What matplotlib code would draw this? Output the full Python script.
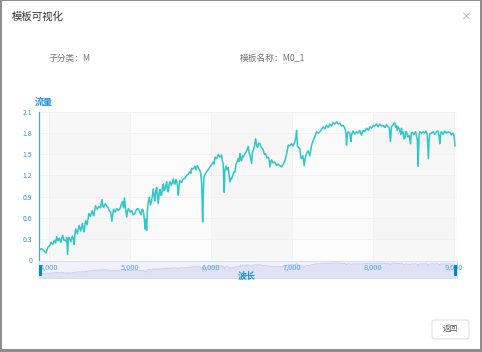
import matplotlib.pyplot as plt
from matplotlib.patches import Rectangle, FancyBboxPatch
from matplotlib.transforms import blended_transform_factory

plt.rcParams['font.family'] = ['Noto Sans CJK SC', 'DejaVu Sans']

W, H = 482, 352

# spectrum (wavelength, flux)
wavelength = [
    3873, 3900, 3923, 3945, 3963, 3984, 4005, 4024, 4045, 4065, 4080, 4093, 4110, 4126, 4145,
    4167, 4185, 4207, 4218, 4228, 4238, 4248, 4268, 4289, 4300, 4309, 4320, 4329, 4350, 4370,
    4390, 4411, 4420, 4431, 4451, 4470, 4492, 4510, 4533, 4545, 4553, 4573, 4595, 4614, 4635,
    4654, 4665, 4675, 4695, 4715, 4730, 4744, 4760, 4776, 4786, 4797, 4815, 4837, 4855, 4878,
    4890, 4906, 4920, 4931, 4945, 4959, 4970, 4980, 5000, 5020, 5040, 5061, 5080, 5102, 5120,
    5135, 5150,
    5164, 5175, 5185, 5195, 5205, 5214, 5225, 5238, 5252, 5267, 5280, 5288, 5300, 5308, 5318,
    5329, 5340, 5349, 5360, 5370, 5380, 5390, 5400, 5411, 5422, 5432, 5442, 5452, 5462, 5473,
    5483, 5493, 5510, 5535, 5545, 5555, 5565, 5576, 5588, 5596, 5606, 5617, 5635, 5658, 5680,
    5699, 5720, 5740, 5750, 5761, 5780, 5802, 5815, 5831, 5848, 5864, 5875, 5884, 5892, 5897,
    5904, 5913, 5930, 5946, 5965, 5987, 6005, 6028, 6040, 6049, 6070, 6090, 6110, 6131, 6140,
    6152, 6158, 6164, 6170, 6185, 6200, 6213, 6225, 6234, 6245, 6255, 6270, 6285, 6296, 6310,
    6320, 6337, 6350, 6358, 6370, 6378, 6390, 6399, 6415, 6432, 6445, 6460,
    6475, 6482, 6490, 6502, 6512, 6523, 6535, 6552, 6565, 6576, 6590, 6605, 6620, 6635, 6646,
    6660, 6675, 6690, 6708, 6718, 6729, 6740, 6749, 6765, 6790, 6811, 6830, 6852, 6873, 6893,
    6914, 6934, 6955, 6975, 6996, 7015, 7037, 7050, 7058, 7068, 7078, 7099, 7110, 7120, 7135,
    7152, 7165, 7181, 7202, 7222, 7243, 7265, 7284, 7305, 7325, 7346, 7365, 7387, 7408, 7428,
    7450, 7469, 7490, 7510, 7530, 7552, 7572, 7593, 7613, 7634, 7654, 7668, 7675, 7685, 7696,
    7716, 7730, 7737, 7757, 7778,
    7798, 7820, 7839, 7860, 7881, 7900, 7922, 7945, 7963, 7985, 8004, 8025, 8045, 8065, 8086,
    8107, 8128, 8150, 8169, 8190, 8202, 8218, 8230, 8250, 8272, 8282, 8292, 8300, 8313, 8333,
    8345, 8354, 8365, 8374, 8385, 8395, 8405, 8416, 8430, 8448, 8465, 8475, 8490, 8505, 8518,
    8530, 8539, 8550, 8560, 8570, 8580, 8600, 8621, 8640, 8654, 8671, 8680, 8687, 8695, 8704,
    8725, 8745, 8765, 8786, 8806, 8820, 8827, 8838, 8848, 8868, 8889, 8910, 8930, 8950, 8971,
    8990, 9005, 9016,
]
flux = [
    0.13, 0.16, 0.15, 0.12, 0.10, 0.18, 0.20, 0.25, 0.22, 0.28, 0.24, 0.33, 0.27, 0.31, 0.25,
    0.35, 0.28, 0.27, 0.32, 0.08, 0.30, 0.32, 0.26, 0.34, 0.29, 0.22, 0.38, 0.44, 0.37, 0.49,
    0.41, 0.52, 0.45, 0.40, 0.56, 0.50, 0.66, 0.62, 0.70, 0.64, 0.63, 0.77, 0.72, 0.76, 0.74,
    0.86, 0.76, 0.75, 0.80, 0.76, 0.74, 0.70, 0.68, 0.55, 0.66, 0.72, 0.68, 0.73, 0.70, 0.73,
    0.78, 0.83, 0.74, 0.88, 0.72, 0.61, 0.70, 0.73, 0.68, 0.70, 0.64, 0.66, 0.72, 0.73, 0.68,
    0.64, 0.72,
    0.70, 0.60, 0.44, 0.58, 0.42, 0.70, 0.82, 0.89, 0.78, 0.84, 0.95, 1.01, 0.88, 0.84, 0.98,
    1.03, 0.90, 0.80, 0.95, 1.00, 0.92, 0.92, 1.02, 1.08, 0.98, 1.00, 1.06, 1.11, 1.00, 0.97,
    1.08, 1.11, 1.06, 1.15, 1.08, 1.08, 1.14, 1.13, 1.04, 0.92, 1.05, 1.13, 1.10, 1.15, 1.16,
    1.20, 1.22, 1.25, 1.23, 1.30, 1.29, 1.33, 1.28, 1.34, 1.30, 1.27, 1.22, 1.10, 0.80, 0.54,
    0.90, 1.18, 1.22, 1.25, 1.28, 1.32, 1.35, 1.39, 1.36, 1.46, 1.44, 1.50, 1.46, 1.49, 1.40,
    1.37, 1.10, 0.96, 1.25, 1.33, 1.28, 1.31, 1.20, 1.11, 1.16, 1.15, 1.20, 1.25, 1.25, 1.36,
    1.38, 1.44, 1.40, 1.51, 1.42, 1.41, 1.48, 1.46, 1.50, 1.53, 1.56, 1.61,
    1.50, 1.49, 1.44, 1.37, 1.52, 1.56, 1.60, 1.72, 1.62, 1.60, 1.66, 1.65, 1.60, 1.58, 1.56,
    1.50, 1.51, 1.45, 1.46, 1.42, 1.32, 1.40, 1.42, 1.38, 1.39, 1.34, 1.36, 1.34, 1.32, 1.36,
    1.41, 1.50, 1.63, 1.62, 1.65, 1.62, 1.68, 1.75, 1.84, 1.62, 1.60, 1.58, 1.45, 1.44, 1.48,
    1.34, 1.45, 1.51, 1.55, 1.48, 1.63, 1.70, 1.75, 1.82, 1.80, 1.82, 1.85, 1.89, 1.86, 1.91,
    1.88, 1.93, 1.90, 1.95, 1.93, 1.96, 1.93, 1.94, 1.90, 1.91, 1.87, 1.80, 1.63, 1.78, 1.82,
    1.80, 1.68, 1.78, 1.83, 1.79,
    1.82, 1.80, 1.84, 1.77, 1.84, 1.82, 1.87, 1.84, 1.89, 1.87, 1.91, 1.90, 1.93, 1.89, 1.93,
    1.90, 1.91, 1.88, 1.92, 1.89, 1.88, 1.68, 1.89, 1.92, 1.95, 1.88, 1.91, 1.84, 1.89, 1.84,
    1.78, 1.87, 1.80, 1.82, 1.72, 1.73, 1.82, 1.82, 1.75, 1.77, 1.65, 1.80, 1.81, 1.78, 1.80,
    1.82, 1.76, 1.70, 1.33, 1.75, 1.82, 1.80, 1.82, 1.80, 1.83, 1.79, 1.60, 1.44, 1.70, 1.79,
    1.80, 1.82, 1.78, 1.82, 1.83, 1.75, 1.65, 1.80, 1.82, 1.78, 1.83, 1.80, 1.82, 1.81, 1.78,
    1.80, 1.76, 1.62,
]

x_ticks = [4000, 5000, 6000, 7000, 8000, 9000]
x_labels = ['4,000', '5,000', '6,000', '7,000', '8,000', '9,000']
y_ticks = [0, 0.3, 0.6, 0.9, 1.2, 1.5, 1.8, 2.1]
y_labels = ['0', '0.3', '0.6', '0.9', '1.2', '1.5', '1.8', '2.1']

blue = '#008acd'
teal = '#2ec7c9'


def box(x0, y0, x1, y1):
    # pixel box -> figure fraction [l, b, w, h]
    return [x0 / W, 1 - y1 / H, (x1 - x0) / W, (y1 - y0) / H]


fig = plt.figure(figsize=(W / 100, H / 100), dpi=100)
fig.patch.set_facecolor('#8e8e8e')
fig.patches.append(Rectangle((2 / W, 1 - 349 / H), 478 / W, 348 / H,
                             transform=fig.transFigure, facecolor='white',
                             edgecolor='none', zorder=-5))

fig.text(12 / W, 1 - 17 / H, '模板可视化', fontsize=7.5, color='#333333', va='center')
fig.text(466 / W, 1 - 17 / H, '×', fontsize=8, color='#aaaaaa', va='center', ha='center')
fig.text(49 / W, 1 - 58 / H, '子分类：M', fontsize=6.3, color='#777777', va='center')
fig.text(240 / W, 1 - 58 / H, '模板名称：M0_1', fontsize=6.3, color='#777777', va='center')

# main chart
ax = fig.add_axes(box(39, 112, 457, 260))
ax.set_xlim(3875, 9040)
ax.set_ylim(0, 2.1)

# split areas (horizontal and vertical bands)
for i in range(len(y_ticks) - 1):
    c = '#fbfbfb' if (len(y_ticks) - 2 - i) % 2 == 0 else '#f2f2f2'
    ax.axhspan(y_ticks[i], y_ticks[i + 1], color=c, alpha=0.5, lw=0, zorder=0)
x_edges = [3875] + x_ticks + [9040]
for i in range(len(x_edges) - 1):
    c = '#fdfdfd' if i % 2 == 0 else '#f2f2f2'
    ax.axvspan(x_edges[i], x_edges[i + 1], color=c, alpha=0.45, lw=0, zorder=0)
for t in y_ticks[1:]:
    ax.axhline(t, color='#f0f0f0', lw=0.6, zorder=1)
for t in x_ticks:
    ax.axvline(t, color='#f0f0f0', lw=0.6, zorder=1)

ax.plot(wavelength, flux, color=teal, lw=1.1, zorder=3)

for s in ['top', 'right', 'bottom']:
    ax.spines[s].set_visible(False)
ax.spines['left'].set_color('#45a8e0')
ax.spines['left'].set_linewidth(0.9)
ax.set_xticks([])
ax.set_yticks(y_ticks)
ax.set_yticklabels(y_labels)
ax.tick_params(axis='y', length=0, pad=5, labelsize=5, labelcolor='#2f95d6')
fig.text(35 / W, 1 - 102 / H, '流量', fontsize=6.5, color='#1f8fd6',
         fontweight='bold', va='center')

# data zoom slider
sl = fig.add_axes(box(39, 261, 457, 278))
sl.set_xlim(3875, 9040)
sl.set_ylim(-0.6, 2.3)
sl.set_facecolor('#f2f0fa')
sl.fill_between(wavelength, -0.6, flux, color='#e1e1f6', lw=0)
sl.plot(wavelength, flux, color='#c0cbf0', lw=0.6)
for s in sl.spines.values():
    s.set_color('#cddaf2')
    s.set_linewidth(0.6)
sl.set_xticks([])
sl.set_yticks([])
tr = blended_transform_factory(sl.transData, sl.transAxes)
for t, lab in zip(x_ticks, x_labels):
    sl.text(t, 0.62, lab, transform=tr, fontsize=5.3, color='#4aa2e0',
            ha='center', va='center')
fig.patches.append(Rectangle((39 / W, 1 - 276 / H), 3 / W, 11 / H,
                             transform=fig.transFigure, facecolor=blue, edgecolor='none', zorder=5))
fig.patches.append(Rectangle((454 / W, 1 - 276 / H), 3 / W, 11 / H,
                             transform=fig.transFigure, facecolor=blue, edgecolor='none', zorder=5))
fig.text(247 / W, 1 - 276 / H, '波长', fontsize=6.5, color='#1f8fd6',
         fontweight='bold', va='center', ha='center')

# back button
fig.patches.append(FancyBboxPatch((432 / W, 1 - 339 / H), 37 / W, 19 / H,
                                  boxstyle='round,pad=0,rounding_size=0.006',
                                  transform=fig.transFigure, facecolor='white',
                                  edgecolor='#dcdcdc', lw=0.7, zorder=2))
fig.text(450.5 / W, 1 - 329.5 / H, '返回', fontsize=5.5, color='#555555',
         ha='center', va='center')

fig.savefig('out.png', dpi=100)
